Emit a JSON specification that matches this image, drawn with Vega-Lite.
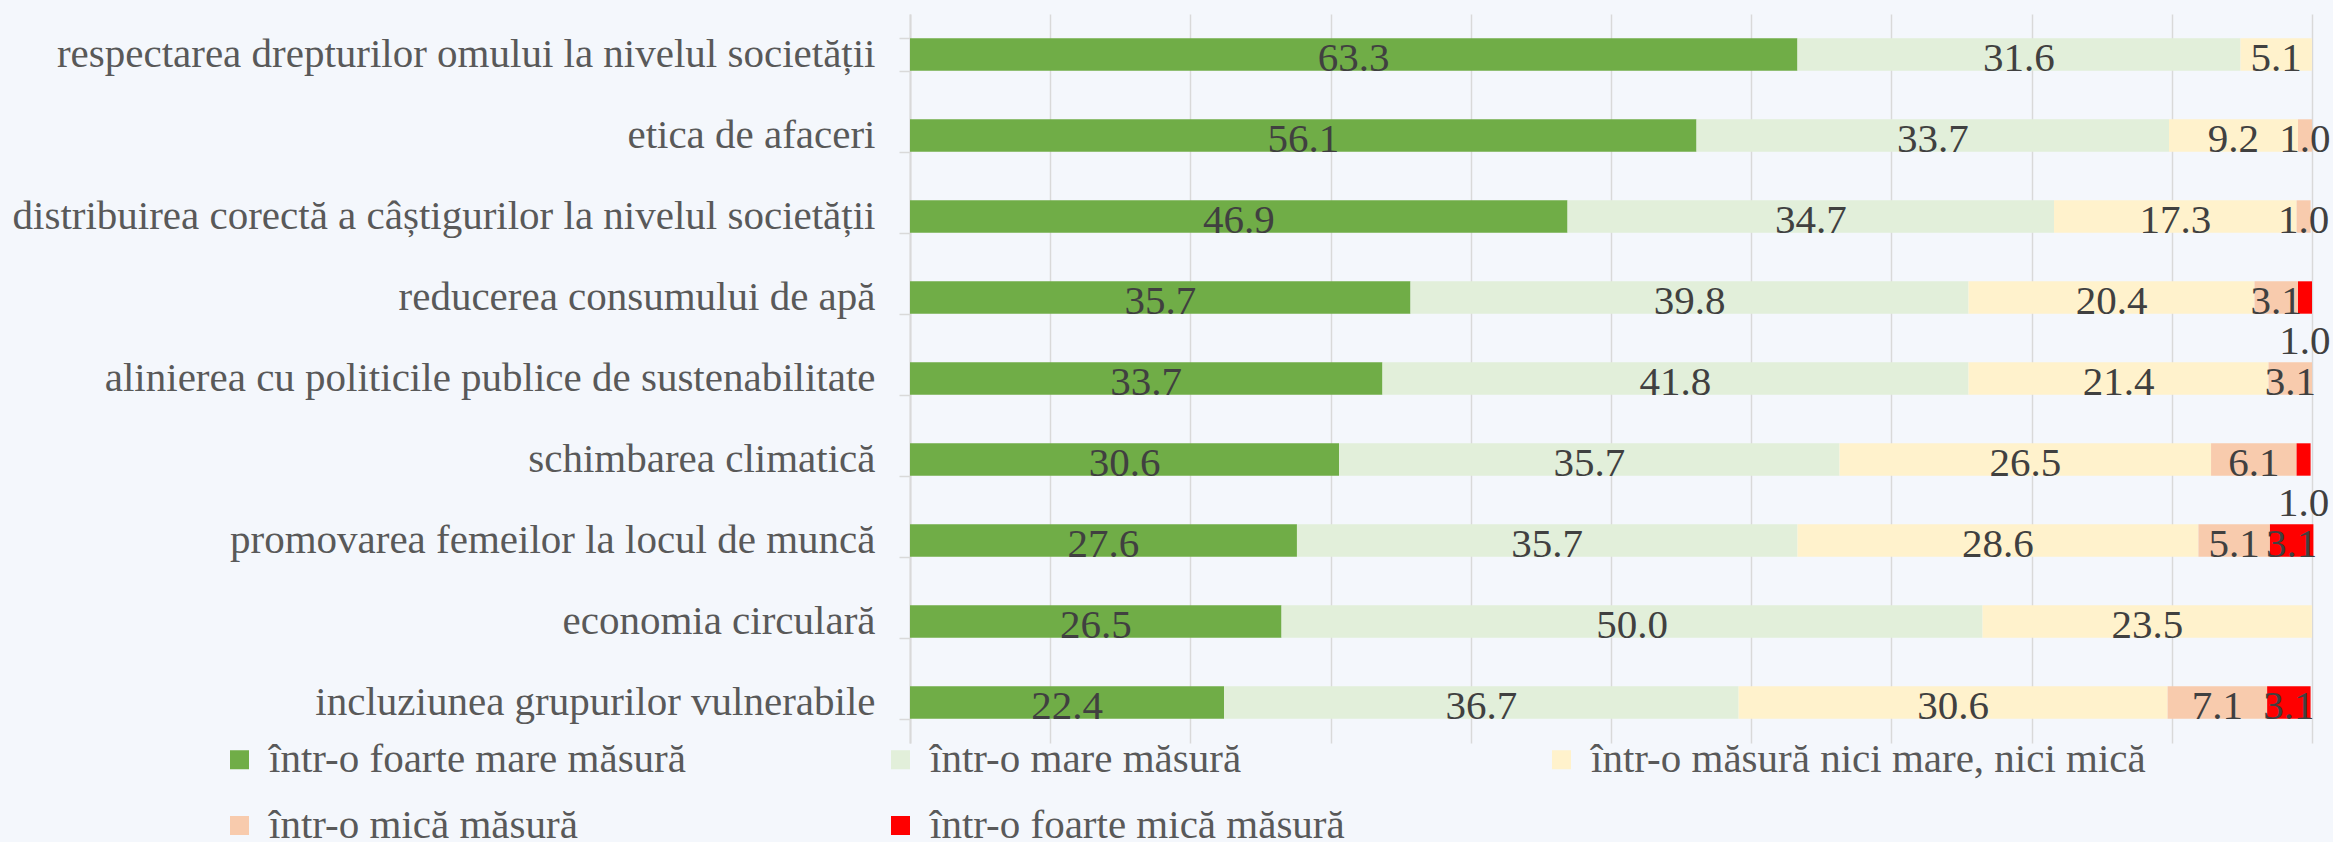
{
  "$schema": "https://vega.github.io/schema/vega-lite/v6.json",
  "width": 1402,
  "height": 729,
  "autosize": {"type": "none"},
  "padding": {"left": 910, "top": 14, "right": 21, "bottom": 99},
  "background": "#F4F7FC",
  "config": {"view": {"stroke": null}, "font": "Liberation Serif"},
  "data": {
    "values": [
      {"item": "respectarea drepturilor omului la nivelul societății", "cat": "într-o foarte mare măsură", "level": 1, "value": 63.3},
      {"item": "respectarea drepturilor omului la nivelul societății", "cat": "într-o mare măsură", "level": 2, "value": 31.6},
      {"item": "respectarea drepturilor omului la nivelul societății", "cat": "într-o măsură nici mare, nici mică", "level": 3, "value": 5.1},
      {"item": "etica de afaceri", "cat": "într-o foarte mare măsură", "level": 1, "value": 56.1},
      {"item": "etica de afaceri", "cat": "într-o mare măsură", "level": 2, "value": 33.7},
      {"item": "etica de afaceri", "cat": "într-o măsură nici mare, nici mică", "level": 3, "value": 9.2},
      {"item": "etica de afaceri", "cat": "într-o mică măsură", "level": 4, "value": 1.0},
      {"item": "distribuirea corectă a câștigurilor la nivelul societății", "cat": "într-o foarte mare măsură", "level": 1, "value": 46.9},
      {"item": "distribuirea corectă a câștigurilor la nivelul societății", "cat": "într-o mare măsură", "level": 2, "value": 34.7},
      {"item": "distribuirea corectă a câștigurilor la nivelul societății", "cat": "într-o măsură nici mare, nici mică", "level": 3, "value": 17.3},
      {"item": "distribuirea corectă a câștigurilor la nivelul societății", "cat": "într-o mică măsură", "level": 4, "value": 1.0},
      {"item": "reducerea consumului de apă", "cat": "într-o foarte mare măsură", "level": 1, "value": 35.7},
      {"item": "reducerea consumului de apă", "cat": "într-o mare măsură", "level": 2, "value": 39.8},
      {"item": "reducerea consumului de apă", "cat": "într-o măsură nici mare, nici mică", "level": 3, "value": 20.4},
      {"item": "reducerea consumului de apă", "cat": "într-o mică măsură", "level": 4, "value": 3.1},
      {"item": "reducerea consumului de apă", "cat": "într-o foarte mică măsură", "level": 5, "value": 1.0},
      {"item": "alinierea cu politicile publice de sustenabilitate", "cat": "într-o foarte mare măsură", "level": 1, "value": 33.7},
      {"item": "alinierea cu politicile publice de sustenabilitate", "cat": "într-o mare măsură", "level": 2, "value": 41.8},
      {"item": "alinierea cu politicile publice de sustenabilitate", "cat": "într-o măsură nici mare, nici mică", "level": 3, "value": 21.4},
      {"item": "alinierea cu politicile publice de sustenabilitate", "cat": "într-o mică măsură", "level": 4, "value": 3.1},
      {"item": "schimbarea climatică", "cat": "într-o foarte mare măsură", "level": 1, "value": 30.6},
      {"item": "schimbarea climatică", "cat": "într-o mare măsură", "level": 2, "value": 35.7},
      {"item": "schimbarea climatică", "cat": "într-o măsură nici mare, nici mică", "level": 3, "value": 26.5},
      {"item": "schimbarea climatică", "cat": "într-o mică măsură", "level": 4, "value": 6.1},
      {"item": "schimbarea climatică", "cat": "într-o foarte mică măsură", "level": 5, "value": 1.0},
      {"item": "promovarea femeilor la locul de muncă", "cat": "într-o foarte mare măsură", "level": 1, "value": 27.6},
      {"item": "promovarea femeilor la locul de muncă", "cat": "într-o mare măsură", "level": 2, "value": 35.7},
      {"item": "promovarea femeilor la locul de muncă", "cat": "într-o măsură nici mare, nici mică", "level": 3, "value": 28.6},
      {"item": "promovarea femeilor la locul de muncă", "cat": "într-o mică măsură", "level": 4, "value": 5.1},
      {"item": "promovarea femeilor la locul de muncă", "cat": "într-o foarte mică măsură", "level": 5, "value": 3.1},
      {"item": "economia circulară", "cat": "într-o foarte mare măsură", "level": 1, "value": 26.5},
      {"item": "economia circulară", "cat": "într-o mare măsură", "level": 2, "value": 50.0},
      {"item": "economia circulară", "cat": "într-o măsură nici mare, nici mică", "level": 3, "value": 23.5},
      {"item": "incluziunea grupurilor vulnerabile", "cat": "într-o foarte mare măsură", "level": 1, "value": 22.4},
      {"item": "incluziunea grupurilor vulnerabile", "cat": "într-o mare măsură", "level": 2, "value": 36.7},
      {"item": "incluziunea grupurilor vulnerabile", "cat": "într-o măsură nici mare, nici mică", "level": 3, "value": 30.6},
      {"item": "incluziunea grupurilor vulnerabile", "cat": "într-o mică măsură", "level": 4, "value": 7.1},
      {"item": "incluziunea grupurilor vulnerabile", "cat": "într-o foarte mică măsură", "level": 5, "value": 3.1}
    ]
  },
  "encoding": {
    "y": {
      "field": "item",
      "type": "nominal",
      "sort": [
        "respectarea drepturilor omului la nivelul societății",
        "etica de afaceri",
        "distribuirea corectă a câștigurilor la nivelul societății",
        "reducerea consumului de apă",
        "alinierea cu politicile publice de sustenabilitate",
        "schimbarea climatică",
        "promovarea femeilor la locul de muncă",
        "economia circulară",
        "incluziunea grupurilor vulnerabile"
      ],
      "scale": {"paddingInner": 0.6, "paddingOuter": 0.3},
      "axis": {
        "title": null,
        "tickBand": "extent",
        "tickSize": 11,
        "tickColor": "#D9D9D9",
        "tickWidth": 1.5,
        "domainColor": "#D9D9D9",
        "domainWidth": 2,
        "labelPadding": 24,
        "labelFontSize": 41,
        "labelColor": "#595959",
        "labelLimit": 2000
      }
    },
    "order": {"field": "level", "type": "quantitative"}
  },
  "layer": [
    {
      "mark": {"type": "bar"},
      "encoding": {
        "x": {
          "field": "value",
          "type": "quantitative",
          "stack": "zero",
          "scale": {"domain": [0, 100], "nice": false},
          "axis": {
            "title": null,
            "values": [0, 10, 20, 30, 40, 50, 60, 70, 80, 90, 100],
            "labels": false,
            "ticks": false,
            "domain": false,
            "grid": true,
            "gridColor": "#D9D9D9",
            "gridWidth": 1.5
          }
        },
        "color": {
          "field": "cat",
          "type": "nominal",
          "scale": {
            "domain": ["într-o foarte mare măsură", "într-o mare măsură", "într-o măsură nici mare, nici mică", "într-o mică măsură", "într-o foarte mică măsură"],
            "range": ["#70AD47", "#E2EFDA", "#FFF2CC", "#F8CBAD", "#FF0000"]
          },
          "legend": {
            "title": null,
            "orient": "none",
            "direction": "horizontal",
            "legendX": -691,
            "legendY": 725,
            "columns": 3,
            "gridAlign": "all",
            "columnPadding": 56,
            "rowPadding": 24,
            "padding": 0,
            "symbolType": "square",
            "symbolSize": 361,
            "symbolStrokeWidth": 0,
            "labelFontSize": 41,
            "labelColor": "#595959",
            "labelOffset": 9,
            "labelLimit": 2000
          }
        }
      }
    },
    {
      "mark": {
        "type": "text",
        "fontSize": 41,
        "color": "#404040",
        "baseline": "middle",
        "dy": {"expr": "datum.level == 5 && datum.value < 2 ? 44 : 4"}
      },
      "encoding": {
        "x": {"field": "value", "type": "quantitative", "stack": "zero", "bandPosition": 0.5},
        "detail": {"field": "cat", "type": "nominal"},
        "text": {"field": "value", "type": "quantitative", "format": ".1f"}
      }
    }
  ]
}
